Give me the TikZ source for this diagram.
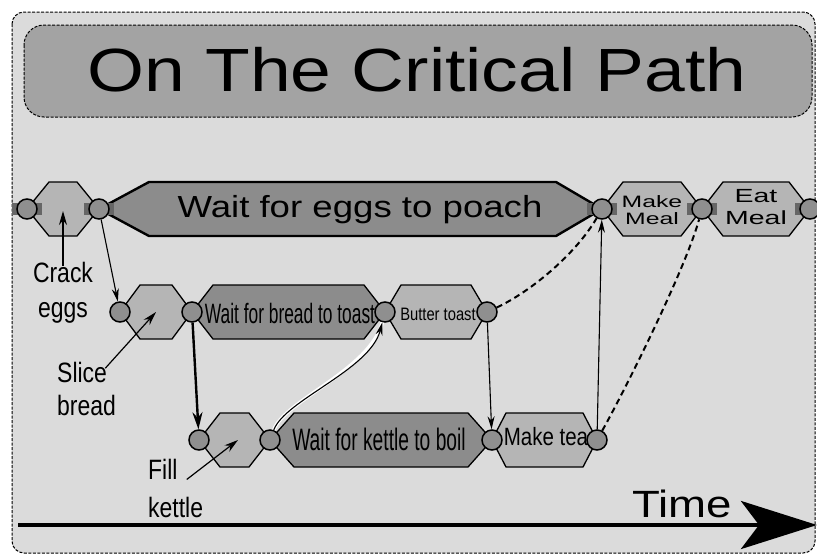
\documentclass[tikz,border=0pt]{standalone}
\usepackage{fontspec}
\setmainfont{Liberation Sans}
\newfontfamily\widefont[FakeStretch=1.2]{Liberation Sans}
\newfontfamily\broadfont[FakeStretch=1.5]{Liberation Sans}
\newfontfamily\narrowfont[FakeStretch=0.82]{Liberation Sans}
\newfontfamily\thinfont[FakeStretch=0.62]{Liberation Sans}
\usepackage{xcolor}
\usepackage{tikz}
\usetikzlibrary{arrows.meta}

\definecolor{paper}{gray}{0.86}
\definecolor{titlegrey}{gray}{0.64}
\definecolor{lightgrey}{gray}{0.71}
\definecolor{darkgrey}{gray}{0.55}
\definecolor{dotgrey}{gray}{0.56}
\definecolor{bandgrey}{gray}{0.40}

\tikzset{
  dot/.style={circle,draw,line width=1.5pt,fill=dotgrey,minimum size=20pt,inner sep=0pt},
  hexa/.style={draw,line width=1.3pt,line join=miter},
  band/.style={draw=bandgrey,line width=12pt},
  link/.style={line width=1.1pt,-{Stealth[length=13pt,width=7pt]}},
  halo/.style={preaction={draw=white,line width=3.6pt,-}},
  later/.style={line width=2pt,dash pattern=on 6pt off 4pt},
  pointer/.style={line width=1.2pt,-{Stealth[length=14pt,width=8pt]}},
  labeltext/.style={inner sep=0pt},
  boxline/.style={line width=1pt,dash pattern=on 3pt off 1.5pt},
  timeline/.style={line width=4pt,-{Stealth[length=76pt,width=48pt,inset=18pt]}}
}

\begin{document}
\begin{tikzpicture}[x=1pt,y=-1pt]
  \useasboundingbox (0,0) rectangle (817,555);
  \fill[white] (0,0) rectangle (817,555);
  % Frame and title
  \draw[boxline,fill=paper,rounded corners=12pt] (12,12) rectangle (815,553);
  \draw[boxline,fill=titlegrey,rounded corners=20pt] (24,25) rectangle (812,117);
  \node[font=\widefont\fontsize{61}{61}\selectfont,anchor=base] (title) at (417,91) {On The Critical Path};

  % Tasks
  \foreach \a/\b/\y/\t/\c in {27/99/209/22/lightgrey, 602/702/209/21/lightgrey, 702/810/209/21/lightgrey,
      120/192/312/20/lightgrey, 192/385/312/21/darkgrey, 385/487/312/16/lightgrey,
      199/270/440/21/lightgrey, 270/492/440/24/darkgrey, 492/597/440/14/lightgrey}
    \draw[hexa,fill=\c] (\a,\y) -- (\a+\t,\y-27) -- (\b-\t,\y-27) -- (\b,\y) -- (\b-\t,\y+27)
      -- (\a+\t,\y+27) -- cycle;
  \draw[hexa,line width=2.4pt,fill=darkgrey] (99,209) -- (149,182) -- (556,182) -- (602,209)
    -- (556,236) -- (149,236) -- cycle;
  \foreach \x in {27,99,602,702,810}
    \draw[band] (\x-15,209) -- (\x+15,209);
  \coordinate (crack) at (63,211);
  \coordinate (slice) at (156,312);
  \coordinate (fill) at (238,440);

  % Events
  \foreach \n/\x/\y in {e1/27/209, e2/99/209, e3/602/209, e4/702/209, e5/810/209,
      b1/120/312, b2/192/312, b3/385/312, b4/487/312,
      k1/199/440, k2/270/440, k3/492/440, k4/597/440}
    \node[dot] (\n) at (\x,\y) {};

  % Task names
  \node[font=\widefont\fontsize{30.5}{30.5}\selectfont,anchor=base] (eggs) at (360,217) {Wait for eggs to poach};
  \node[font=\broadfont\fontsize{16.5}{17}\selectfont,align=center] (makemeal) at (652,210.5) {Make\\Meal};
  \node[font=\broadfont\fontsize{19}{22}\selectfont,align=center] (eatmeal) at (756,207.5) {Eat\\Meal};
  \node[font=\thinfont\fontsize{28}{28}\selectfont,anchor=base] (toast) at (290,323) {Wait for bread to toast};
  \node[font=\narrowfont\fontsize{18}{18}\selectfont,anchor=base] (butter) at (438,320) {Butter toast};
  \node[font=\thinfont\fontsize{31}{31}\selectfont,anchor=base] (boil) at (379,450) {Wait for kettle to boil};
  \node[font=\narrowfont\fontsize{25}{25}\selectfont,anchor=base] (tea) at (546,445) {Make tea};

  % Dependencies
  \draw[link] (e2) -- (b1);
  \draw[link,line width=2.4pt,-{Stealth[length=17pt,width=10pt]}] (b2) -- (k1);
  \draw[link,halo] (k2) .. controls (285,400) and (370,370) .. (b3);
  \draw[link] (b4) -- (k3);
  \draw[link] (k4) -- (e3);
  \draw[later] (b4) .. controls (530,292) and (575,255) .. (e3);
  \draw[later] (k4) .. controls (625,390) and (685,270) .. (e4);

  % Labels
  \node[labeltext,font=\narrowfont\fontsize{28}{35}\selectfont,align=center] (crackl) at (63,293) {Crack\\eggs};
  \node[labeltext,font=\narrowfont\fontsize{28}{33}\selectfont,align=left,anchor=west] (slicel) at (57,389) {Slice\\bread};
  \node[labeltext,font=\narrowfont\fontsize{28}{38}\selectfont,align=left,anchor=west] (filll) at (148,488) {Fill\\kettle};
  \draw[pointer,shorten <=27pt] (crackl.center) -- (crack);
  \draw[pointer,shorten <=28pt] (slicel.center) -- (slice);
  \draw[pointer,shorten <=14pt] (filll.center) -- (fill);

  % Time axis
  \coordinate (t0) at (18,525);
  \coordinate (t1) at (817,525);
  \draw[timeline] (t0) -- (t1);
  \node[font=\widefont\fontsize{38}{38}\selectfont,anchor=base] (time) at (682,517) {Time};
\end{tikzpicture}
\end{document}
